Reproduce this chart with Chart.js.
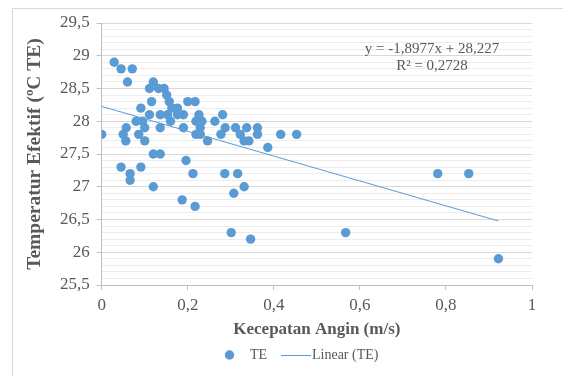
<!DOCTYPE html>
<html>
<head>
<meta charset="utf-8">
<script src="https://cdn.jsdelivr.net/npm/chart.js@4/dist/chart.umd.min.js"></script>
<style>
  body { margin: 0; background: #fff; }
  #wrap { width: 563px; height: 376px; }
</style>
</head>
<body>
<div id="wrap"><canvas id="myChart" width="563" height="376"></canvas></div>
<script>
// Kecepatan Angin (m/s) vs Temperatur Efektif (TE)
var windSpeed = [
    0.029,
    0.045, 0.071,
    0.06, 0.12,
    0.111, 0.132, 0.145,
    0.151,
    0.116, 0.157, 0.2, 0.217,
    0.091, 0.163, 0.176,
    0.111, 0.136, 0.153, 0.176, 0.19, 0.226, 0.281,
    0.08, 0.095, 0.16, 0.219, 0.233, 0.263,
    0.057, 0.1, 0.136, 0.19, 0.229, 0.287, 0.311, 0.337, 0.362,
    0, 0.05, 0.086, 0.219, 0.229, 0.277, 0.322, 0.362, 0.416, 0.453,
    0.056, 0.1, 0.246, 0.331, 0.342,
    0.386,
    0.12, 0.136,
    0.196,
    0.045, 0.091,
    0.066, 0.212, 0.286, 0.316, 0.781, 0.853,
    0.066,
    0.12, 0.331,
    0.307,
    0.187,
    0.217,
    0.301, 0.567,
    0.346,
    0.922
];
var effTemp = [
    28.9,
    28.8, 28.8,
    28.6, 28.6,
    28.5, 28.5, 28.5,
    28.4,
    28.3, 28.3, 28.3, 28.3,
    28.2, 28.2, 28.2,
    28.1, 28.1, 28.1, 28.1, 28.1, 28.1, 28.1,
    28.0, 28.0, 28.0, 28.0, 28.0, 28.0,
    27.9, 27.9, 27.9, 27.9, 27.9, 27.9, 27.9, 27.9, 27.9,
    27.8, 27.8, 27.8, 27.8, 27.8, 27.8, 27.8, 27.8, 27.8, 27.8,
    27.7, 27.7, 27.7, 27.7, 27.7,
    27.6,
    27.5, 27.5,
    27.4,
    27.3, 27.3,
    27.2, 27.2, 27.2, 27.2, 27.2, 27.2,
    27.1,
    27.0, 27.0,
    26.9,
    26.8,
    26.7,
    26.3, 26.3,
    26.2,
    25.9
];

// Excel linear trendline
var trendSlope = -1.8977;
var trendIntercept = 28.227;
var trendLabel = 'y = -1,8977x + 28,227';
var r2Label = 'R\u00B2 = 0,2728';

var xTicks = [0, 0.2, 0.4, 0.6, 0.8, 1];
var yMin = 25.5, yMax = 29.5;

var blue = '#5B9BD5';
var textGray = '#595959';
var serif = "'Liberation Serif', 'Times New Roman', serif";

function fmt(v) {
    return String(Math.round(v * 10) / 10).replace('.', ',');
}
function isMajor(v) {
    return Math.round(v * 10) % 5 === 0;
}

const points = windSpeed.map((x, i) => ({ x: x, y: effTemp[i] }));
const maxX = Math.max.apply(null, windSpeed);
const minX = Math.min.apply(null, windSpeed);
const trend = [
    { x: minX, y: trendSlope * minX + trendIntercept },
    { x: maxX, y: trendSlope * maxX + trendIntercept }
];

const extras = {
    id: 'extras',
    beforeDraw(chart) {
        const c = chart.ctx;
        c.save();
        c.strokeStyle = '#D9D9D9';
        c.lineWidth = 1;
        c.strokeRect(12.5, 8.5, 700, 500);
        c.restore();
    },
    afterDraw(chart) {
        const c = chart.ctx;
        c.save();
        c.fillStyle = textGray;
        c.font = '15px ' + serif;
        c.textAlign = 'center';
        c.textBaseline = 'middle';
        c.fillText(trendLabel, 432, 49);
        c.fillText(r2Label, 432, 66);

        // legend
        const ly = 355;
        c.font = '14px ' + serif;
        c.fillStyle = blue;
        c.beginPath();
        c.arc(229.5, ly, 4.7, 0, Math.PI * 2);
        c.fill();
        c.fillStyle = textGray;
        c.textAlign = 'left';
        c.fillText('TE', 250, ly);
        c.strokeStyle = blue;
        c.lineWidth = 1;
        c.beginPath();
        c.moveTo(281, ly + 0.5);
        c.lineTo(311, ly + 0.5);
        c.stroke();
        c.fillText('Linear (TE)', 312, ly);
        c.restore();
    }
};

const ctx = document.getElementById('myChart').getContext('2d');
const myChart = new Chart(ctx, {
    type: 'scatter',
    data: {
        datasets: [
            {
                label: 'TE',
                data: points,
                backgroundColor: blue,
                borderWidth: 0,
                pointRadius: 4.7,
                pointHoverRadius: 4.7
            },
            {
                type: 'line',
                label: 'Linear (TE)',
                data: trend,
                borderColor: blue,
                borderWidth: 1,
                pointRadius: 0,
                fill: false
            }
        ]
    },
    options: {
        responsive: false,
        animation: false,
        layout: { padding: { left: 14, top: 23, right: 31, bottom: 36 } },
        plugins: {
            legend: { display: false },
            tooltip: { enabled: false }
        },
        scales: {
            x: {
                type: 'linear',
                min: 0,
                max: 1,
                afterBuildTicks: s => { s.ticks = xTicks.map(v => ({ value: v })); },
                afterFit: s => { s.height = 55; },
                ticks: {
                    color: textGray,
                    font: { family: serif, size: 17 },
                    padding: 5,
                    callback: v => fmt(v)
                },
                grid: {
                    drawOnChartArea: false,
                    tickLength: 5,
                    color: '#BFBFBF'
                },
                border: { color: '#BFBFBF' },
                title: {
                    display: true,
                    text: 'Kecepatan Angin (m/s)',
                    color: textGray,
                    font: { family: serif, size: 17, weight: 'bold' },
                    padding: 0
                }
            },
            y: {
                min: yMin,
                max: yMax,
                afterBuildTicks: s => {
                    const t = [];
                    for (let i = 0; i <= Math.round((yMax - yMin) * 10); i++) {
                        t.push({ value: Math.round((yMin + i / 10) * 10) / 10 });
                    }
                    s.ticks = t;
                },
                afterFit: s => { s.width = 87.7; },
                ticks: {
                    color: textGray,
                    font: { family: serif, size: 17 },
                    padding: 7,
                    autoSkip: false,
                    callback: v => isMajor(v) ? fmt(v) : ''
                },
                grid: {
                    tickLength: 5,
                    color: c => isMajor(c.tick.value) ? '#D9D9D9' : '#EDEDED',
                    tickColor: c => isMajor(c.tick.value) ? '#BFBFBF' : 'rgba(0,0,0,0)'
                },
                border: { color: '#BFBFBF' },
                title: {
                    display: true,
                    text: 'Temperatur Efektif (\u00BAC TE)',
                    color: textGray,
                    font: { family: serif, size: 19.5, weight: 'bold' },
                    padding: { top: 9, bottom: 0 }
                }
            }
        }
    },
    plugins: [extras]
});
</script>
</body>
</html>
